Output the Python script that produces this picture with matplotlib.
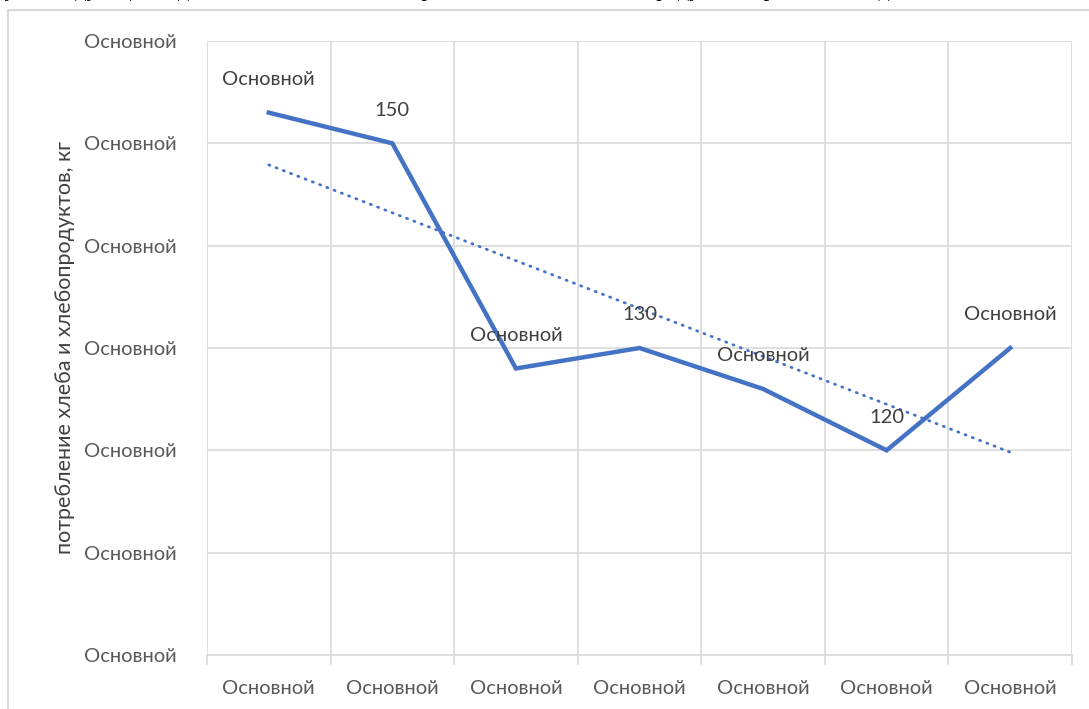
import matplotlib
matplotlib.use("Agg")
import matplotlib.pyplot as plt
import numpy as np
from matplotlib.patches import Rectangle

plt.rcParams["font.family"] = ["Lato", "DejaVu Sans"]

# данные
categories = ["Основной"] * 7
values = [153, 150, 128, 130, 126, 120, 130]
point_labels = ["Основной", "150", "Основной", "130", "Основной", "120", "Основной"]
y_ticks = [100, 110, 120, 130, 140, 150, 160]
y_tick_labels = ["Основной"] * 7
y_title = "потребление хлеба и хлебопродуктов, кг"
cut_text = "а у последующие годы заметно снижение потребления хлеба и хлебопродуктов в расчете на одного человека"

LINE = "#4472C4"
TXT = "#595959"
GRID = "#d9d9d9"

fig = plt.figure(figsize=(10.89, 7.09), dpi=100)
fig.patches.append(Rectangle((8 / 1089, -0.1), 1.2, 1 - 10 / 709 + 0.1,
                             transform=fig.transFigure, fill=False,
                             edgecolor=GRID, linewidth=1.5))
# строка текста документа, обрезанная сверху
fig.text(-0.01, 1 + 4 / 709, cut_text, family="Liberation Serif", fontsize=16,
         va="baseline", ha="left", color="black")

ax = fig.add_axes([207 / 1089, 1 - 655 / 709, 865 / 1089, 614 / 709])
x = np.arange(1, len(values) + 1)

ax.plot(x, values, color=LINE, linewidth=3.2, solid_joinstyle="miter", zorder=3)
k, b = np.polyfit(x, values, 1)
ax.plot(x, k * x + b, color=LINE, linewidth=2.0, linestyle=(0, (0.4, 2.4)),
        dash_capstyle="round", zorder=2)

for xi, yi, lab in zip(x, values, point_labels):
    ax.annotate(lab, (xi, yi), xytext=(0, 24), textcoords="offset points",
                ha="center", va="center", fontsize=14.5, color="#404040")

ax.set_xlim(0.5, len(values) + 0.5)
ax.set_ylim(y_ticks[0], y_ticks[-1])
ax.set_xticks(np.arange(0.5, len(values) + 1, 1))
ax.set_xticklabels([])
ax.set_xticks(x, minor=True)
ax.set_xticklabels(categories, minor=True)
ax.tick_params(axis="x", which="major", length=7, color=GRID, width=1.2)
ax.tick_params(axis="x", which="minor", length=0, pad=18, labelsize=14.5, labelcolor=TXT)
ax.set_yticks(y_ticks)
ax.set_yticklabels(y_tick_labels)
ax.tick_params(axis="y", length=0, pad=22, labelsize=14.5, labelcolor=TXT)

ax.grid(True, which="major", color=GRID, linewidth=1.2)
ax.set_axisbelow(True)
for s in ["top", "right", "left"]:
    ax.spines[s].set_visible(False)
ax.spines["bottom"].set_color(GRID)
ax.spines["bottom"].set_linewidth(1.2)

ax.set_ylabel(y_title, fontsize=15.5, color="#404040", labelpad=6)

fig.savefig("out.png", dpi=100)
